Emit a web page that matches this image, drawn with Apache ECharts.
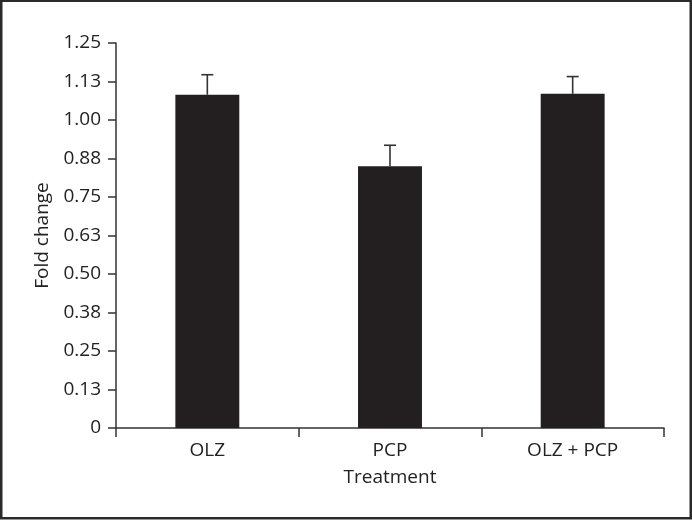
<!DOCTYPE html>
<html>
<head>
<meta charset="utf-8">
<script src="https://cdn.jsdelivr.net/npm/echarts@6/dist/echarts.min.js"></script>
<style>
html,body{margin:0;padding:0;background:#fff;}
#chart{width:692px;height:520px;}
</style>
</head>
<body>
<div id="chart"></div>
<script>
var categories = ['OLZ', 'PCP', 'OLZ + PCP'];
var means = [1.082, 0.850, 1.085];
var errors = [0.065, 0.068, 0.056];
var yMin = 0, yMax = 1.25, yStep = 0.125;

var chart = echarts.init(document.getElementById('chart'));
var fontFam = '"Open Sans", "Noto Sans", sans-serif';
var txt = '#222';

var option = {
  backgroundColor: '#fff',
  animation: false,
  graphic: [{
    type: 'rect',
    shape: {x: 1.25, y: 0.75, width: 689.5, height: 517.5},
    style: {fill: 'none', stroke: '#2a2a2a', lineWidth: 2.5},
    silent: true
  }],
  grid: {left: 116, right: 28, top: 43, bottom: 92, containLabel: false},
  xAxis: {
    type: 'category',
    data: categories,
    name: 'Treatment',
    nameLocation: 'middle',
    nameGap: 40,
    nameTextStyle: {fontFamily: fontFam, fontSize: 19, color: txt},
    axisLine: {lineStyle: {color: '#333', width: 1.5}},
    axisTick: {show: true, length: 9, lineStyle: {color: '#333', width: 1.5}},
    axisLabel: {fontFamily: fontFam, fontSize: 19, color: txt, margin: 13},
    splitLine: {show: false}
  },
  yAxis: {
    type: 'value',
    min: yMin, max: yMax, interval: yStep,
    name: 'Fold change',
    nameLocation: 'middle',
    nameGap: 64,
    nameTextStyle: {fontFamily: fontFam, fontSize: 19, color: txt},
    axisLine: {show: true, lineStyle: {color: '#333', width: 1.5}},
    axisTick: {show: true, length: 8, lineStyle: {color: '#333', width: 1.5}},
    axisLabel: {
      fontFamily: fontFam, fontSize: 19, color: txt, margin: 15,
      formatter: function (v) { return Math.abs(v) < 1e-9 ? '0' : v.toFixed(2); }
    },
    splitLine: {show: false}
  },
  series: [{
    type: 'bar',
    data: means,
    barWidth: '35%',
    itemStyle: {color: '#231f20'},
    z: 2
  }, {
    type: 'custom',
    z: 3,
    data: means.map(function (m, i) { return [i, m, m + errors[i]]; }),
    renderItem: function (params, api) {
      var x = api.value(0);
      var lo = api.coord([x, api.value(1)]);
      var hi = api.coord([x, api.value(2)]);
      var hw = 6;
      var st = {stroke: '#333', lineWidth: 1.6};
      return {
        type: 'group',
        children: [
          {type: 'line', shape: {x1: lo[0], y1: lo[1], x2: hi[0], y2: hi[1]}, style: st},
          {type: 'line', shape: {x1: hi[0] - hw, y1: hi[1], x2: hi[0] + hw, y2: hi[1]}, style: st}
        ]
      };
    }
  }]
};
chart.setOption(option);
</script>
</body>
</html>
